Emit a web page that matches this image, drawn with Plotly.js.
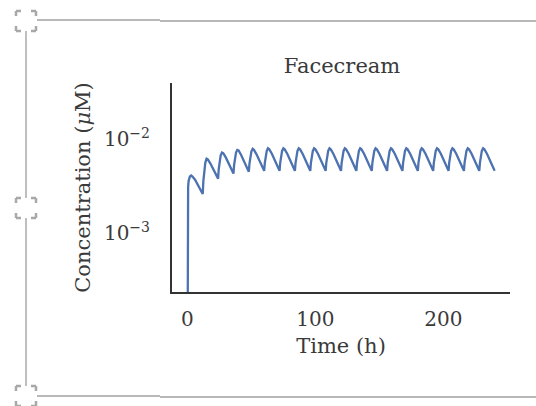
<!DOCTYPE html>
<html>
<head>
<meta charset="utf-8">
<script src="https://cdn.plot.ly/plotly-3.0.1.min.js"></script>
<style>html,body{margin:0;padding:0;background:#fff;}#chart{width:536px;height:406px;}</style>
</head>
<body>
<div id="chart"></div>
<script>
// ---- data ----
const chartTitle = "Facecream";
const xTitle = "Time (h)";
const yTitle = "Concentration (<i>μ</i>M)";
const xTickVals = [0, 100, 200];
const xTickText = ["0", "100", "200"];
const yTickVals = [0.001, 0.01];
const yTickText = ["10<sup>−3</sup>", "10<sup>−2</sup>"];

const timeH = [
  0, 0.1, 0.3, 0.6, 1, 2, 3, 4, 6, 9,
  12, 12.5, 13, 14, 15, 16, 18, 21,
  24, 24.5, 25, 26, 27, 28, 30, 33,
  36, 36.5, 37, 38, 39, 40, 42, 45,
  48, 48.5, 49, 50, 51, 52, 54, 57,
  60, 60.5, 61, 62, 63, 64, 66, 69,
  72, 72.5, 73, 74, 75, 76, 78, 81,
  84, 84.5, 85, 86, 87, 88, 90, 93,
  96, 96.5, 97, 98, 99, 100, 102, 105,
  108, 108.5, 109, 110, 111, 112, 114, 117,
  120, 120.5, 121, 122, 123, 124, 126, 129,
  132, 132.5, 133, 134, 135, 136, 138, 141,
  144, 144.5, 145, 146, 147, 148, 150, 153,
  156, 156.5, 157, 158, 159, 160, 162, 165,
  168, 168.5, 169, 170, 171, 172, 174, 177,
  180, 180.5, 181, 182, 183, 184, 186, 189,
  192, 192.5, 193, 194, 195, 196, 198, 201,
  204, 204.5, 205, 206, 207, 208, 210, 213,
  216, 216.5, 217, 218, 219, 220, 222, 225,
  228, 228.5, 229, 230, 231, 232, 234, 237,
  240
];
const concUM = [
  0.00001, 0.0010, 0.0022, 0.0031, 0.0036, 0.0040, 0.0041, 0.0040, 0.0037, 0.0031,
  0.0026, 0.0036, 0.0044, 0.0056, 0.0062, 0.0061, 0.0055, 0.0046,
  0.0038, 0.0048, 0.0056, 0.0067, 0.0072, 0.0071, 0.0064, 0.0053,
  0.0043, 0.0053, 0.0061, 0.0072, 0.0077, 0.0076, 0.0068, 0.0056,
  0.0045, 0.0055, 0.0063, 0.0074, 0.0079, 0.0077, 0.0069, 0.0057,
  0.0046, 0.0056, 0.0064, 0.0075, 0.0080, 0.0078, 0.0070, 0.0057,
  0.0046, 0.0056, 0.0064, 0.0075, 0.0080, 0.0078, 0.0070, 0.0057,
  0.0046, 0.0056, 0.0064, 0.0075, 0.0080, 0.0078, 0.0070, 0.0057,
  0.0046, 0.0056, 0.0064, 0.0075, 0.0080, 0.0078, 0.0070, 0.0057,
  0.0046, 0.0056, 0.0064, 0.0075, 0.0080, 0.0078, 0.0070, 0.0057,
  0.0046, 0.0056, 0.0064, 0.0075, 0.0080, 0.0078, 0.0070, 0.0057,
  0.0046, 0.0056, 0.0064, 0.0075, 0.0080, 0.0078, 0.0070, 0.0057,
  0.0046, 0.0056, 0.0064, 0.0075, 0.0080, 0.0078, 0.0070, 0.0057,
  0.0046, 0.0056, 0.0064, 0.0075, 0.0080, 0.0078, 0.0070, 0.0057,
  0.0046, 0.0056, 0.0064, 0.0075, 0.0080, 0.0078, 0.0070, 0.0057,
  0.0046, 0.0056, 0.0064, 0.0075, 0.0080, 0.0078, 0.0070, 0.0057,
  0.0046, 0.0056, 0.0064, 0.0075, 0.0080, 0.0078, 0.0070, 0.0057,
  0.0046, 0.0056, 0.0064, 0.0075, 0.0080, 0.0078, 0.0070, 0.0057,
  0.0046, 0.0056, 0.0064, 0.0075, 0.0080, 0.0078, 0.0070, 0.0057,
  0.0046, 0.0056, 0.0064, 0.0075, 0.0080, 0.0078, 0.0070, 0.0057,
  0.0046
];

// ---- layout geometry (pixels) ----
const W = 536, H = 406;
const M = {l: 172, r: 26, t: 83, b: 114};
const PW = W - M.l - M.r, PH = H - M.t - M.b;
const px = x => (x - M.l) / PW;
const py = y => (H - M.b - y) / PH;

const frameColor = "#b8b8b8";
const shapes = [];
function seg(x0, y0, x1, y1) {
  shapes.push({type: "line", xref: "paper", yref: "paper",
    x0: px(x0), y0: py(y0), x1: px(x1), y1: py(y1),
    line: {color: frameColor, width: 1.8}});
}
// selection frame lines
seg(37, 20, 160, 20); seg(160, 21, 536, 21);
seg(37, 396, 160, 396); seg(160, 397, 536, 397);
seg(26, 31, 26, 198); seg(26, 218, 26, 386);
// handles
function handle(cx, cy) {
  shapes.push({type: "rect", xref: "paper", yref: "paper",
    x0: px(cx - 10), x1: px(cx + 10), y0: py(cy + 10), y1: py(cy - 10),
    fillcolor: "#ffffff",
    line: {color: "#a8a8a8", width: 2.5, dash: "5px,10px,5px,0px"}});
}
handle(26, 21); handle(26, 208); handle(26, 396);

const textColor = "#3a3a3a";
const font = "DejaVu Serif, serif";

Plotly.newPlot("chart", [{
  x: timeH, y: concUM, type: "scatter", mode: "lines",
  line: {color: "#4c72b0", width: 2.3}, hoverinfo: "skip"
}], {
  width: W, height: H,
  margin: M,
  paper_bgcolor: "#ffffff", plot_bgcolor: "#ffffff",
  showlegend: false,
  font: {family: font, color: textColor, size: 20},
  title: {text: chartTitle, font: {family: font, size: 21, color: textColor},
          x: 342 / W, xanchor: "center", y: 1 - 66 / H, yanchor: "middle"},
  xaxis: {
    range: [-12, 252], showgrid: false, zeroline: false,
    showline: true, linecolor: "#333333", linewidth: 2,
    ticks: "", tickvals: xTickVals, ticktext: xTickText,
    ticklabelstandoff: 8, tickfont: {size: 20},
    title: {text: xTitle, font: {size: 21}, standoff: 8}
  },
  yaxis: {
    type: "log", range: [-3.63, -1.40], showgrid: false, zeroline: false,
    showline: true, linecolor: "#333333", linewidth: 2,
    ticks: "", tickvals: yTickVals, ticktext: yTickText,
    ticklabelstandoff: 16, tickfont: {size: 20},
    title: {text: yTitle, font: {size: 21}, standoff: 8}
  },
  shapes: shapes
}, {staticPlot: true, displayModeBar: false});
</script>
</body>
</html>
